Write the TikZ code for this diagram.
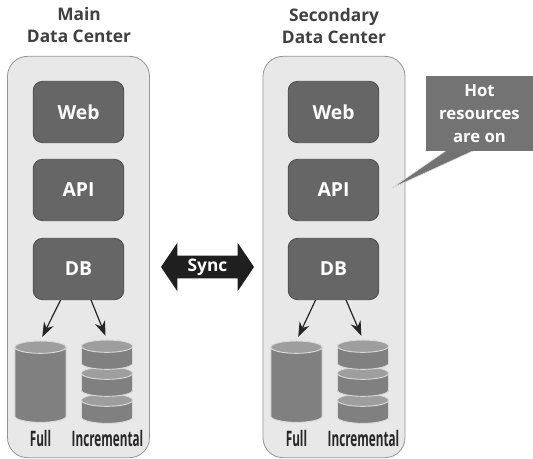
\documentclass[tikz,border=0pt]{standalone}
\usepackage{fontspec}
\setmainfont{Open Sans}
\newfontfamily\narrowfont[FakeStretch=0.55]{Open Sans}
\usetikzlibrary{arrows.meta,shapes.geometric,shapes.arrows}
\definecolor{centerfill}{gray}{0.91}
\definecolor{centerline}{gray}{0.58}
\definecolor{boxfill}{gray}{0.40}
\definecolor{calloutfill}{gray}{0.45}
\definecolor{diskbody}{gray}{0.50}
\definecolor{disktop}{gray}{0.62}
\tikzset{
  center/.style={draw=centerline, fill=centerfill, rounded corners=15pt, line width=0.6pt,
    minimum width=106.5pt, minimum height=301pt, inner sep=0pt},
  tier/.style={draw=black!70, fill=boxfill, rounded corners=7pt, line width=0.6pt, text=white,
    minimum width=68pt, minimum height=46pt, inner sep=0pt, font=\fontsize{14.5}{16}\selectfont\bfseries},
  title/.style={align=center, text=black!75, font=\fontsize{13}{16}\selectfont\bfseries},
  disk/.style={cylinder, shape border rotate=90, aspect=0.24, draw=white!85!black, line width=0.7pt,
    cylinder uses custom fill, cylinder body fill=diskbody, cylinder end fill=disktop,
    text width=38.5pt, inner sep=0pt},
  fulldisk/.style={disk, minimum height=61pt},
  smalldisk/.style={disk, minimum height=22pt},
  tag/.style={text=black!85, font=\fontsize{16}{18}\narrowfont\bfseries},
  dbarrow/.style={-{Stealth[length=11pt,width=8pt]}, line width=0.9pt, black!85, shorten >=3pt}
}
\begin{document}
\begin{tikzpicture}[x=0.75pt,y=-0.75pt]
  \useasboundingbox (0,0) rectangle (533,459);
  % data centers
  \node[center] (mainc) at (78.5,257) {};
  \node[center] (secc) at (334,257) {};
  \node[title] (maint) at (79,25) {Main\\Data Center};
  \node[title] (sect) at (334,26) {Secondary\\Data Center};
  % tiers
  \node[tier] (webmain) at (78.5,112) {Web};
  \node[tier] (apimain) at (78.5,190) {API};
  \node[tier] (dbmain) at (78.5,269) {DB};
  \node[tier] (websec) at (333.5,112) {Web};
  \node[tier] (apisec) at (333.5,190) {API};
  \node[tier] (dbsec) at (333.5,269) {DB};
  % backups
  \node[fulldisk] (fullmain) at (40.5,385) {};
  \node[smalldisk] (incmainc) at (107,412) {};
  \node[smalldisk] (incmainb) at (107,385) {};
  \node[smalldisk] (incmaina) at (107,358) {};
  \node[fulldisk] (fullsec) at (296.5,385) {};
  \node[smalldisk] (incsecc) at (363,412) {};
  \node[smalldisk] (incsecb) at (363,385) {};
  \node[smalldisk] (incseca) at (363,358) {};
  \node[tag] (fullmaint) at (40.5,439) {Full};
  \node[tag] (incmaint) at (107.5,439) {Incremental};
  \node[tag] (fullsect) at (296.5,439) {Full};
  \node[tag] (incsect) at (363.5,439) {Incremental};
  \draw[dbarrow] (dbmain.-120) -- (fullmain.north);
  \draw[dbarrow] (dbmain.-68) -- (incmaina.north);
  \draw[dbarrow] (dbsec.-120) -- (fullsec.north);
  \draw[dbarrow] (dbsec.-68) -- (incseca.north);
  % sync
  \node[double arrow, fill=black!88, text=white, inner sep=0pt, inner xsep=10pt,
    text height=12pt, text depth=4.5pt, minimum height=69.75pt,
    double arrow head extend=9.75pt, double arrow tip angle=112,
    font=\fontsize{13}{14}\selectfont\bfseries] (sync) at (207.5,267) {Sync};
  % callout
  \coordinate (tip) at (392,188);
  \coordinate (basea) at (447,150);
  \coordinate (baseb) at (475,150);
  \fill[calloutfill] (basea) -- (tip) -- (baseb) -- cycle;
  \draw[white!85!black, line width=0.5pt] (basea) -- (tip) -- (baseb);
  \node[fill=calloutfill, text=white, align=center, minimum width=80.25pt, minimum height=56.25pt,
    inner sep=0pt, font=\fontsize{12.5}{17}\selectfont\bfseries] (hot) at (479.5,113.5) {Hot\\resources\\are on};
\end{tikzpicture}
\end{document}
